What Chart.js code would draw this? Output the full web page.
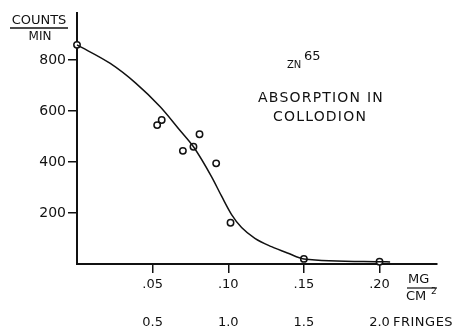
<!DOCTYPE html>
<html>
<head>
<meta charset="utf-8">
<script src="https://cdn.jsdelivr.net/npm/chart.js@4"></script>
<style>
html,body{margin:0;padding:0;background:#fff;}
#wrap{width:469px;height:327px;position:relative;}
</style>
</head>
<body>
<div id="wrap"><canvas id="c" width="469" height="327"></canvas></div>
<script>
// Measured points (thickness mg/cm^2, counts/min)
const pointX = [0, 0.053, 0.056, 0.070, 0.077, 0.081, 0.092, 0.1015, 0.15, 0.20];
const pointY = [860, 545, 565, 444, 460, 509, 395, 162, 20, 9];
// Hand-drawn smooth curve
const curveX = [0, 0.022, 0.039, 0.055, 0.068, 0.077, 0.089, 0.0956, 0.1022, 0.1088, 0.1176, 0.1286, 0.1396, 0.150, 0.200, 0.207];
const curveY = [860, 787, 709, 617, 525, 460, 342, 266, 194, 143, 101, 68, 42, 20, 9, 8];
// Axis ticks
const yTicks = [200, 400, 600, 800];
const xTicks = [0.05, 0.10, 0.15, 0.20];
const mgLabels = ['.05', '.10', '.15', '.20'];
const fringeLabels = ['0.5', '1.0', '1.5', '2.0'];

const FONT = '"DejaVu Sans", sans-serif';
const INK = '#111';

const annot = {
  id: 'annot',
  afterDraw(chart) {
    const ctx = chart.ctx;
    ctx.save();
    ctx.fillStyle = INK;
    ctx.strokeStyle = INK;
    ctx.textBaseline = 'middle';
    ctx.textAlign = 'center';
    // Y axis title
    ctx.font = '13px ' + FONT;
    ctx.letterSpacing = '0px';
    ctx.fillText('COUNTS', 39, 20.5);
    ctx.lineWidth = 1.3;
    ctx.beginPath(); ctx.moveTo(10, 28); ctx.lineTo(68, 28); ctx.stroke();
    ctx.font = '12px ' + FONT;
    ctx.fillText('MIN', 40, 36.5);
    // ZN 65
    ctx.textAlign = 'left';
    ctx.font = '10px ' + FONT;
    ctx.fillText('ZN', 287, 65);
    ctx.font = '13px ' + FONT;
    ctx.fillText('65', 304, 57);
    // Absorption in collodion
    ctx.textAlign = 'center';
    ctx.font = '14px ' + FONT;
    ctx.letterSpacing = '1.2px';
    ctx.fillText('ABSORPTION IN', 321, 98);
    ctx.fillText('COLLODION', 320, 117);
    ctx.letterSpacing = '0px';
    // MG / CM^2
    ctx.font = '13px ' + FONT;
    ctx.textAlign = 'left';
    ctx.fillText('MG', 408, 280);
    ctx.lineWidth = 1.2;
    ctx.beginPath(); ctx.moveTo(407, 288); ctx.lineTo(437, 288); ctx.stroke();
    ctx.fillText('CM', 406, 297);
    ctx.font = '9px ' + FONT;
    ctx.fillText('2', 431, 292);
    // FRINGES
    ctx.font = '13px ' + FONT;
    ctx.letterSpacing = '0.5px';
    ctx.fillText('FRINGES', 393, 323);
    ctx.restore();
  }
};

new Chart(document.getElementById('c'), {
  type: 'scatter',
  data: {
    datasets: [
      {
        data: curveX.map((x, i) => ({x: x, y: curveY[i]})),
        showLine: true,
        borderColor: INK,
        borderWidth: 1.5,
        pointRadius: 0,
        cubicInterpolationMode: 'monotone',
        clip: false
      },
      {
        data: pointX.map((x, i) => ({x: x, y: pointY[i]})),
        showLine: false,
        pointRadius: 3.2,
        pointBackgroundColor: '#fff',
        pointBorderColor: INK,
        pointBorderWidth: 1.5,
        clip: false
      }
    ]
  },
  options: {
    responsive: false,
    animation: false,
    devicePixelRatio: 1,
    layout: {padding: {top: 13, right: 32, left: 0, bottom: 0}},
    plugins: {legend: {display: false}, tooltip: {enabled: false}},
    scales: {
      x: {
        type: 'linear', position: 'bottom', min: 0, max: 0.238,
        afterBuildTicks: s => { s.ticks = xTicks.map(v => ({value: v})); },
        afterFit: s => { s.height = 27; },
        grid: {display: true, drawOnChartArea: false, drawTicks: true, tickLength: 9, color: INK, lineWidth: 1.5},
        border: {display: true, color: INK, width: 2},
        ticks: {
          padding: 4, color: INK, font: {family: FONT, size: 13},
          maxRotation: 0, autoSkip: false,
          callback: (v, i) => mgLabels[i]
        }
      },
      x2: {
        type: 'linear', position: 'bottom', min: 0, max: 0.238,
        afterBuildTicks: s => { s.ticks = xTicks.map(v => ({value: v})); },
        afterFit: s => { s.height = 36; },
        grid: {display: false, drawTicks: false},
        border: {display: false},
        ticks: {
          padding: 24, color: INK, font: {family: FONT, size: 13},
          maxRotation: 0, autoSkip: false,
          callback: (v, i) => fringeLabels[i]
        }
      },
      y: {
        type: 'linear', min: 0, max: 985,
        afterBuildTicks: s => { s.ticks = yTicks.map(v => ({value: v})); },
        afterFit: s => { s.width = 77; },
        grid: {display: true, drawOnChartArea: false, drawTicks: true, tickLength: 9, color: INK, lineWidth: 1.5},
        border: {display: true, color: INK, width: 2},
        ticks: {padding: 2, color: INK, font: {family: FONT, size: 14}}
      }
    }
  },
  plugins: [annot]
});
</script>
</body>
</html>
